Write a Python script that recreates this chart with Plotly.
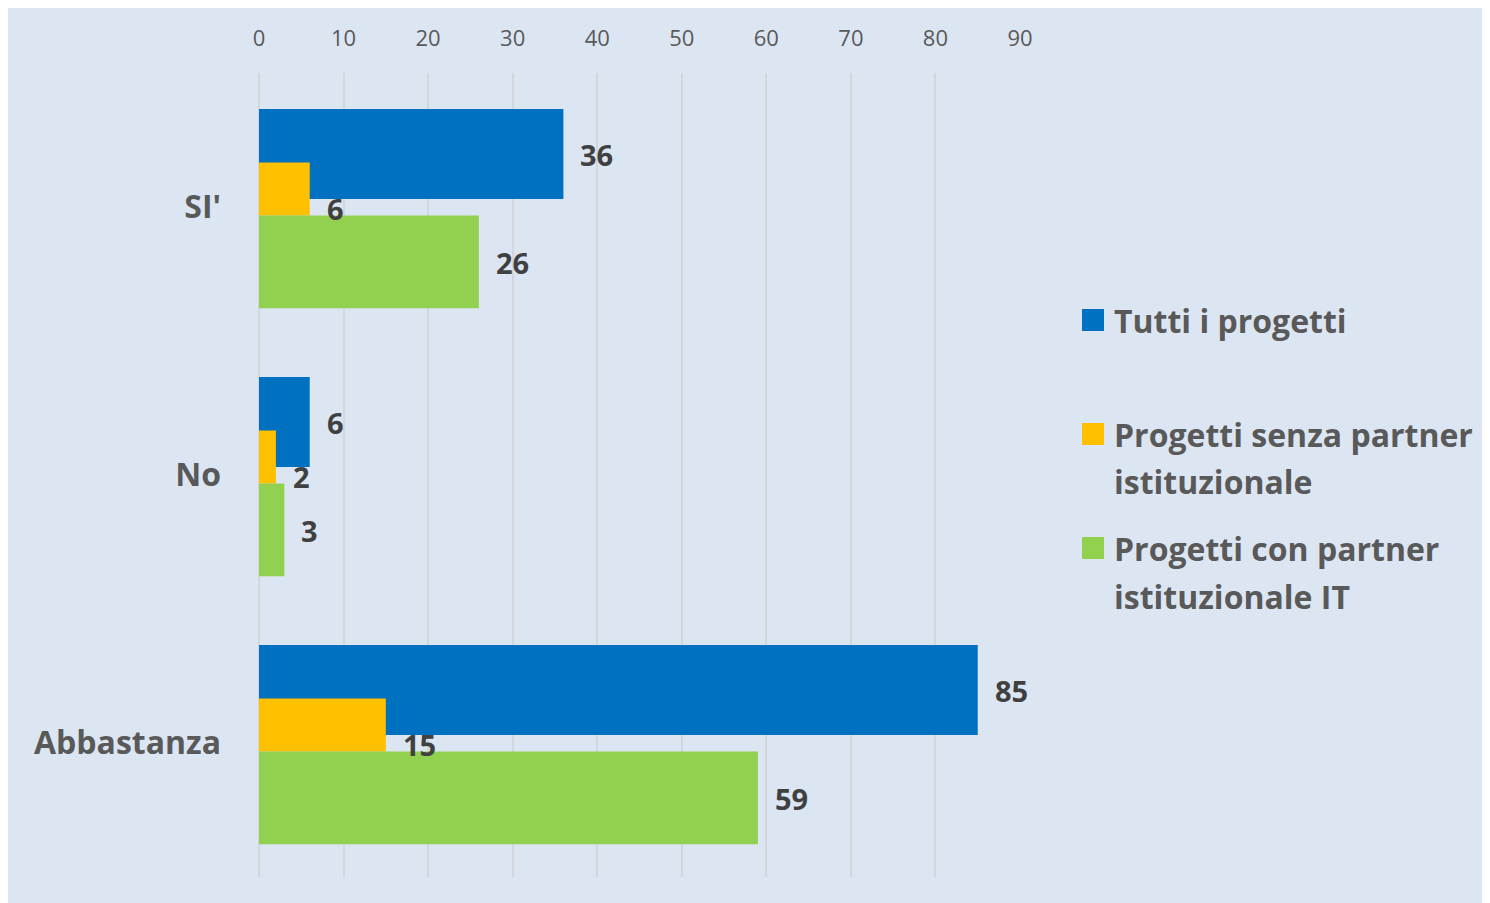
import plotly.graph_objects as go

categories = ["SI'", "No", "Abbastanza"]
series_names = ["Tutti i progetti", "Progetti senza partner<br>istituzionale",
                "Progetti con partner<br>istituzionale IT"]
tutti = [36, 6, 85]
senza = [6, 2, 15]
con_it = [26, 3, 59]
x_ticks = [0, 10, 20, 30, 40, 50, 60, 70, 80, 90]

colors = ["#0070C0", "#FFC000", "#92D050"]
offsets = [-0.366, -0.166, 0.032]
widths = [0.336, 0.198, 0.346]
label_yshift = [53, -1, -55]

# page is offset by 8px body margin; figure coords = page coords - 8
OFF = 8
W, H = 1490, 903
L, T = 259 - OFF, 73 - OFF
PW, PH = 761, 804
R, B = W - L - PW, H - T - PH


def px_x(px):
    return (px - OFF - L) / PW


def px_y(py):
    return (T + PH - (py - OFF)) / PH


FONT = "Open Sans"
fig = go.Figure()
series = [tutti, senza, con_it]
for i, vals in enumerate(series):
    fig.add_trace(go.Bar(
        y=categories, x=vals, orientation="h", name=series_names[i].replace("<br>", " "),
        marker=dict(color=colors[i], line=dict(width=0)),
        offset=offsets[i], width=widths[i], showlegend=False,
        hoverinfo="x+name"))
    for c, v in zip(categories, vals):
        fig.add_annotation(x=v, y=c, xref="x", yref="y", text=str(v),
                           showarrow=False, xanchor="left", yanchor="middle",
                           xshift=15, yshift=label_yshift[i],
                           font=dict(family=FONT, size=29, color="#404040",
                                     weight="bold"))

# legend (manual, to match symbol size and line spacing)
leg_centers = [320, 434, 548]
line_gap = 48
for i in range(3):
    c = leg_centers[i]
    fig.add_shape(type="rect", xref="paper", yref="paper",
                  x0=px_x(1082), x1=px_x(1104), y0=px_y(c + 11), y1=px_y(c - 11),
                  fillcolor=colors[i], line=dict(width=0))
    for k, line in enumerate(series_names[i].split("<br>")):
        fig.add_annotation(x=px_x(1112), y=px_y(c + k * line_gap), xref="paper",
                           yref="paper", text=line, showarrow=False,
                           xanchor="left", yanchor="middle", align="left",
                           font=dict(family=FONT, size=32, color="#595959",
                                     weight="bold"))

fig.update_layout(
    width=W, height=H, barmode="overlay",
    margin=dict(l=L, r=R, t=T, b=B),
    paper_bgcolor="#DCE6F2", plot_bgcolor="rgba(0,0,0,0)",
    xaxis=dict(range=[0, 90], side="top", tickvals=x_ticks,
               showgrid=True, gridcolor="#D3D6DB", gridwidth=1.5,
               zeroline=True, zerolinecolor="#D3D6DB", zerolinewidth=1.5,
               showline=False, ticks="", ticklabelstandoff=22,
               tickfont=dict(family=FONT, size=22, color="#595959"),
               fixedrange=True),
    yaxis=dict(categoryorder="array", categoryarray=categories,
               range=[2.5, -0.5], showgrid=False, zeroline=False,
               showline=False, ticks="", ticklabelstandoff=37,
               tickfont=dict(family=FONT, size=32, color="#595959", weight="bold"),
               fixedrange=True),
    showlegend=False,
)

fig.write_html("out.html")
